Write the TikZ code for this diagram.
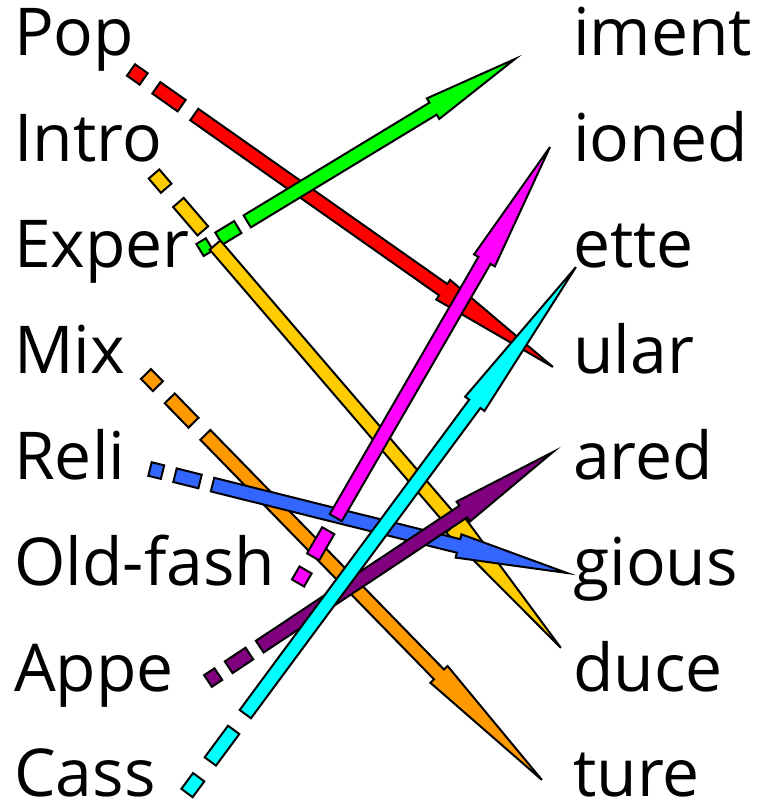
\documentclass[tikz,border=0pt]{standalone}
\usepackage{fontspec}
\setmainfont{Open Sans}
\definecolor{cred}{RGB}{255,0,0}
\definecolor{cyellow}{RGB}{255,204,0}
\definecolor{cgreen}{RGB}{0,255,0}
\definecolor{corange}{RGB}{255,153,0}
\definecolor{cblue}{RGB}{51,102,255}
\definecolor{cmagenta}{RGB}{255,0,255}
\definecolor{cpurple}{RGB}{128,0,128}
\definecolor{ccyan}{RGB}{0,255,255}
\newcommand\fatarrow[3]{%
  \pgfpointdiff{\pgfpointanchor{#2}{center}}{\pgfpointanchor{#3}{center}}%
  \pgfgetlastxy\arrdx\arrdy
  \pgfmathsetmacro\arrL{veclen(\arrdx,\arrdy)}%
  \pgfmathsetmacro\arrA{atan2(\arrdy,\arrdx)}%
  \pgfmathsetmacro\arrD{0.03*\arrL}%
  \pgfmathsetmacro\arrB{0.74*\arrL}%
  \begin{scope}[shift={(#2)}, rotate=\arrA]
    \filldraw[arrowline, fill=#1] (0,-7) rectangle (\arrD,7)
      (2*\arrD,-7) rectangle (4*\arrD,7)
      (5*\arrD,-7) -- (\arrB,-7) -- (\arrB,-12) -- (\arrL,0) -- (\arrB,12) -- (\arrB,7) -- (5*\arrD,7) -- cycle;
  \end{scope}}
\begin{document}
\begin{tikzpicture}[x=1pt,y=-1pt,
  word/.style={anchor=base west, inner sep=0pt, font=\fontsize{66}{66}\selectfont},
  arrowline/.style={draw=black, line width=2pt}]
\useasboundingbox (0,0) rectangle (760,803);
\node[word] (l1) at (14,55) {Pop};
\node[word] (l2) at (14,161) {Intro};
\node[word] (l3) at (14,267) {Exper};
\node[word] (l4) at (14,373) {Mix};
\node[word] (l5) at (14,479) {Reli};
\node[word] (l6) at (14,585) {Old-fash};
\node[word] (l7) at (14,691) {Appe};
\node[word] (l8) at (14,796) {Cass};
\node[word] (r1) at (573,55) {iment};
\node[word] (r2) at (573,161) {ioned};
\node[word] (r3) at (573,267) {ette};
\node[word] (r4) at (573,373) {ular};
\node[word] (r5) at (573,479) {ared};
\node[word] (r6) at (573,585) {gious};
\node[word] (r7) at (573,691) {duce};
\node[word] (r8) at (573,796) {ture};
\coordinate (s1) at (131,70);  \coordinate (t1) at (553,367);
\coordinate (s2) at (154,174); \coordinate (t2) at (561,648);
\coordinate (s3) at (200,250); \coordinate (t3) at (515,59);
\coordinate (s4) at (146,374); \coordinate (t4) at (542,780);
\coordinate (s5) at (150,469); \coordinate (t5) at (567,573);
\coordinate (s6) at (298,583); \coordinate (t6) at (550,147);
\coordinate (s7) at (208,681); \coordinate (t7) at (553,452);
\coordinate (s8) at (187,793); \coordinate (t8) at (576,267);
\fatarrow{cred}{s1}{t1}
\fatarrow{cgreen}{s3}{t3}
\fatarrow{corange}{s4}{t4}
\fatarrow{cyellow}{s2}{t2}
\fatarrow{cblue}{s5}{t5}
\fatarrow{cpurple}{s7}{t7}
\fatarrow{cmagenta}{s6}{t6}
\fatarrow{ccyan}{s8}{t8}
\end{tikzpicture}
\end{document}
